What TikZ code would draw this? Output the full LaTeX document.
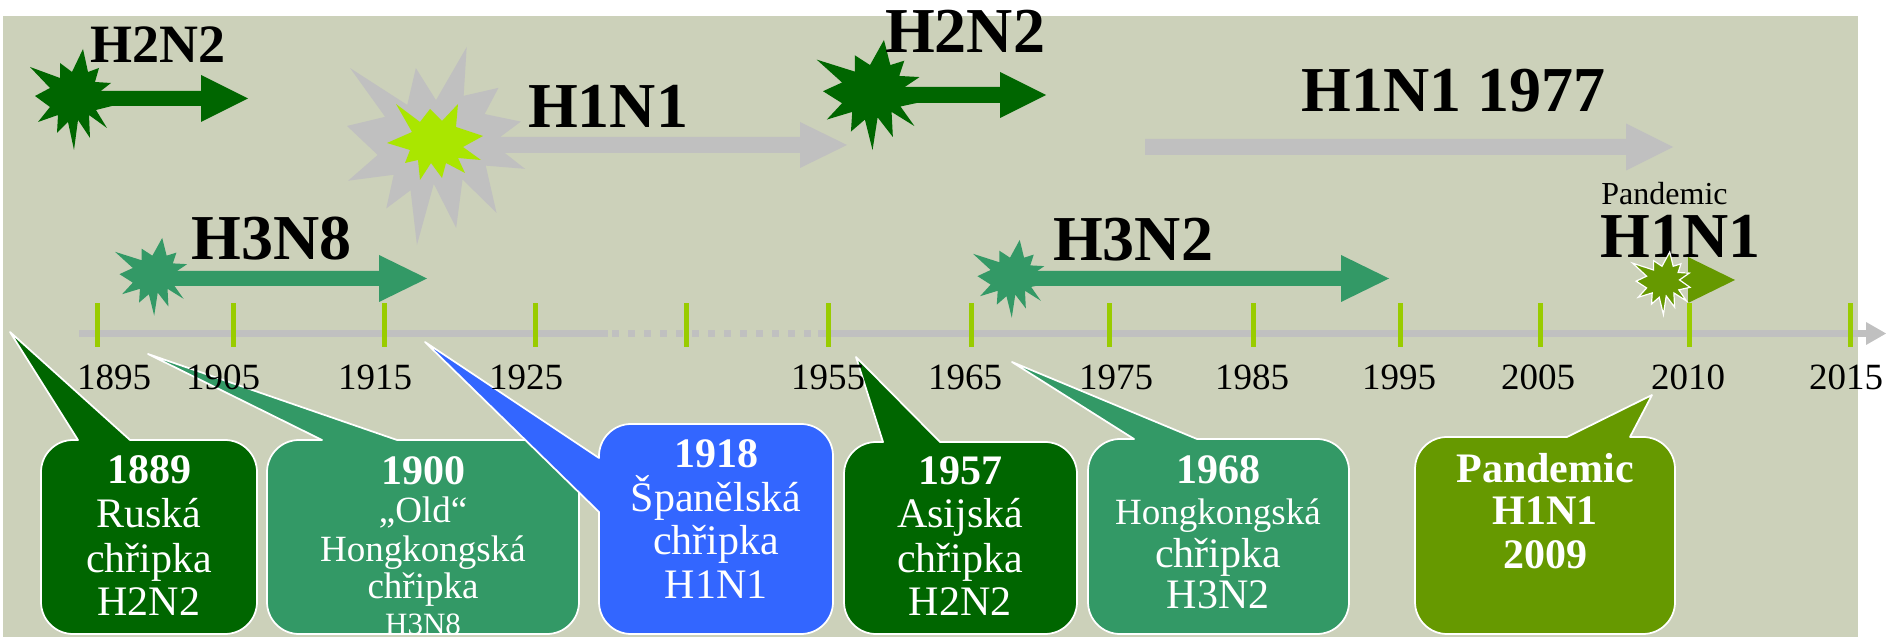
\documentclass[tikz,border=0pt]{standalone}
\usepackage{fontspec}
\setmainfont{Liberation Serif}

\definecolor{cBg}{RGB}{204,209,186}
\definecolor{cDark}{RGB}{0,102,0}
\definecolor{cMid}{RGB}{51,153,102}
\definecolor{cBlue}{RGB}{51,102,255}
\definecolor{cOlive}{RGB}{102,153,0}
\definecolor{cLime}{RGB}{170,230,0}
\definecolor{cTick}{RGB}{153,204,0}
\definecolor{cGray}{RGB}{192,192,192}

% block arrow: style, x start, x head base, x tip, y centre, half shaft, half head
\newcommand\blockarrow[7]{\fill[#1] (#2,{#5+#6}) -- (#3,{#5+#6}) -- (#3,{#5+#7}) -- (#4,#5) -- (#3,{#5-#7}) -- (#3,{#5-#6}) -- (#2,{#5-#6}) -- cycle;}

% small explosion: style, centre x, centre y, x scale, y scale
\newcommand\burst[5]{\begin{scope}[shift={(#2,#3)},xscale=#4,yscale=-#5]
\path[#1] (11,-49) -- (16,-26) -- (27,-30) -- (23,-16) -- (39,-15) -- (25,-4) -- (40,8) -- (24,12) -- (35,30) -- (17,17) -- (18,40) -- (6,22) -- (2,52) -- (-4,24) -- (-15,35) -- (-14,17) -- (-34,24) -- (-22,9) -- (-37,-2) -- (-22,-10) -- (-42,-31) -- (-12,-20) -- (-12,-35) -- (0,-26) -- cycle;
\end{scope}}

% rounded callout with pointer on its top edge:
% fill, left, right, bottom, top, base x1, base x2, tip x, tip y
\newcommand\topcallout[9]{\path[callout,fill=#1] (#2,{#4+32}) -- (#2,{#5-32}) arc[start angle=180,end angle=90,radius=32] -- (#6,#5) -- (#8,#9) -- (#7,#5) -- ({#3-32},#5) arc[start angle=90,end angle=0,radius=32] -- (#3,{#4+32}) arc[start angle=0,end angle=-90,radius=32] -- ({#2+32},#4) arc[start angle=270,end angle=180,radius=32] -- cycle;}

\tikzset{
  callout/.style={draw=white, line width=1.75pt, line join=round},
  tickmark/.style={draw=cTick, line width=5pt},
  big/.style={font=\bfseries\fontsize{64}{70}\selectfont, inner sep=0pt, anchor=base},
  yearlbl/.style={font=\fontsize{37}{40}\selectfont, inner sep=0pt, anchor=base},
  bt/.style={text=white, inner sep=0pt, anchor=base},
  b42/.style={bt, font=\bfseries\fontsize{42}{48}\selectfont},
  r42/.style={bt, font=\fontsize{42}{48}\selectfont},
  r37/.style={bt, font=\fontsize{37}{42}\selectfont},
  r31/.style={bt, font=\fontsize{31}{36}\selectfont},
}

\begin{document}
\begin{tikzpicture}[x=1pt,y=1pt]
\useasboundingbox (0,0) rectangle (1886,637);
\fill[white] (0,0) rectangle (1886,637);
\fill[cBg] (3,0) rectangle (1858,621);

% ---- time axis ----
\draw[cGray, line width=7pt] (79,303.5) -- (608,303.5);
\draw[cGray, line width=7pt, dash pattern=on 7pt off 9pt] (612,303.5) -- (818,303.5);
\draw[cGray, line width=7pt] (818,303.5) -- (1867,303.5);
\fill[cGray] (1866,315) -- (1886,303.5) -- (1866,292) -- cycle;
\foreach \x in {97,233,384,535,686,828,971,1109,1253,1400,1540,1689,1850}
  \draw[tickmark] (\x,290) -- (\x,334);

% ---- 1918: H1N1 ----
\begin{scope}[shift={(347,590)},xscale=0.8241,yscale=-0.9167]
\fill[cGray] (108,58) -- (145.22,0) -- (141.55,53.25) -- (183.80,44.57) -- (167.02,73.15) -- (210.97,81.37) -- (176.07,104.75) -- (216,132.90) -- (168.37,129.42) -- (181.45,180.95) -- (140.20,144.57) -- (132.47,197.37) -- (105.32,149.35) -- (84.85,216) -- (77.15,156.27) -- (47.62,176.17) -- (56.67,139.37) -- (1.35,145.87) -- (37.22,117.75) -- (0,86.15) -- (46.27,76.17) -- (3.70,22.95) -- (73.12,63.20) -- (83.52,22.95) -- cycle;
\end{scope}
\blockarrow{cGray}{480}{800}{847}{492}{8}{23}
\fill[cLime] (387,494) -- (412,505) -- (396,533) -- (420,515) -- (430,528) -- (442,516) -- (458,533) -- (456,510) -- (483,501) -- (463,490) -- (481,477) -- (458,479) -- (465,464) -- (446,474) -- (442,459) -- (431,474) -- (420,457) -- (418,477) -- (405,474) -- (410,487) -- cycle;
\node[big] (t1918) at (608,509) {H1N1};

% ---- 1889: H2N2 ----
\blockarrow{cDark}{80}{201}{248}{538.5}{7.5}{23.5}
\burst{fill=cDark}{72}{539}{1}{1}
\node[big, font=\bfseries\fontsize{54}{60}\selectfont] (t1889) at (157.5,574) {H2N2};

% ---- 1900: H3N8 ----
\blockarrow{cMid}{160}{379}{427}{358.5}{7.5}{23.5}
\burst{fill=cMid}{152.4}{361.3}{0.89}{0.77}
\node[big] (t1900) at (271.5,377) {H3N8};

% ---- 1957: H2N2 ----
\blockarrow{cDark}{880}{1000}{1046}{542}{8}{23}
\burst{fill=cDark}{870}{543.6}{1.27}{1.09}
\node[big] (t1957) at (965,584) {H2N2};

% ---- 1977: H1N1 ----
\blockarrow{cGray}{1145}{1626}{1673}{490}{8}{23.5}
\node[big] (t1977) at (1453.5,525) {H1N1 1977};

% ---- 1968: H3N2 ----
\blockarrow{cMid}{1015}{1341}{1389}{358.5}{7.5}{23.5}
\burst{fill=cMid}{1010}{359.3}{0.88}{0.77}
\node[big] (t1968) at (1133,376) {H3N2};

% ---- 2009: pandemic H1N1 ----
\node[inner sep=0pt, anchor=base, font=\fontsize{32}{36}\selectfont] (t2009a) at (1664.5,432) {Pandemic};
\node[big] (t2009) at (1680.5,379) {H1N1};
\blockarrow{cOlive}{1665}{1688}{1735}{357}{7.5}{23}
\burst{fill=cOlive, draw=white, line width=1.2pt}{1662}{354.6}{0.70}{0.62}

% ---- callouts ----
\topcallout{cDark}{41}{257}{3}{197}{78}{130}{10}{305}
\topcallout{cMid}{267}{579}{3}{197}{322}{397}{148}{283}
\path[callout,fill=cBlue] (599,35) -- (599,125) -- (425,295) -- (599,179) -- (599,181) arc[start angle=180,end angle=90,radius=32] -- (801,213) arc[start angle=90,end angle=0,radius=32] -- (833,35) arc[start angle=0,end angle=-90,radius=32] -- (631,3) arc[start angle=270,end angle=180,radius=32] -- cycle;
\topcallout{cDark}{844}{1077}{3}{195}{883}{940}{856}{280}
\topcallout{cMid}{1088}{1349}{3}{198}{1134}{1197}{1012}{275}
\topcallout{cOlive}{1415}{1675}{3}{200}{1567}{1630}{1652}{242}

% callout texts
\node[b42] (c1a) at (149,153) {1889};
\node[r42] (c1b) at (149,109) {Ruská};
\node[r42] (c1c) at (149,65) {chřipka};
\node[r42] (c1d) at (149,22) {H2N2};

\node[b42] (c2a) at (423,152) {1900};
\node[r37] (c2b) at (423,114) {„Old“};
\node[r37] (c2c) at (423,76) {Hongkongská};
\node[r37] (c2d) at (423,39) {chřipka};
\node[r31] (c2e) at (423,3) {H3N8};

\node[b42] (c3a) at (716,169) {1918};
\node[r42] (c3b) at (716,125) {Španělská};
\node[r42] (c3c) at (716,82) {chřipka};
\node[r42] (c3d) at (716,39) {H1N1};

\node[b42] (c4a) at (960,152) {1957};
\node[r42] (c4b) at (960,109) {Asijská};
\node[r42] (c4c) at (960,65) {chřipka};
\node[r42] (c4d) at (960,22) {H2N2};

\node[b42] (c5a) at (1218,153) {1968};
\node[r37] (c5b) at (1218,112) {Hongkongská};
\node[r42] (c5c) at (1218,70) {chřipka};
\node[r42] (c5d) at (1218,29) {H3N2};

\node[b42] (c6a) at (1545,154) {Pandemic};
\node[b42] (c6b) at (1545,112) {H1N1};
\node[b42] (c6c) at (1545,69) {2009};

% ---- year labels ----
\foreach \x/\t in {114/1895,223/1905,375/1915,526/1925,828/1955,965/1965,1116/1975,1252/1985,1399/1995,1538/2005,1688/2010,1846/2015}
  \node[yearlbl] (y\t) at (\x,247) {\t};
\end{tikzpicture}
\end{document}
